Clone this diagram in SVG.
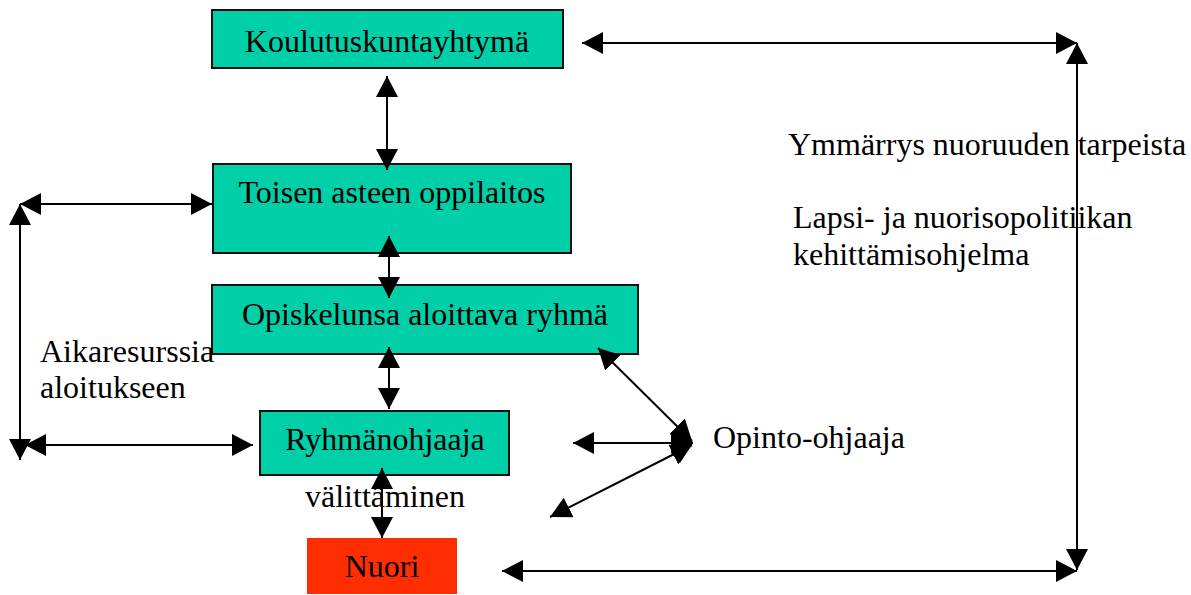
<svg xmlns="http://www.w3.org/2000/svg" width="1191" height="595" viewBox="0 0 1191 595">
<defs>
<marker id="ah" viewBox="0 0 21 22" refX="21" refY="11" markerWidth="21" markerHeight="22" markerUnits="userSpaceOnUse" orient="auto-start-reverse">
<path d="M0,0 L21,11 L0,22 z" fill="#000"/>
</marker>
<style>
.box{fill:#00CFA8;stroke:#111;stroke-width:2}
.red{fill:#FF2E00}
text{font-family:"Liberation Serif","Times New Roman",serif;font-size:32px;fill:#000}
.c{text-anchor:middle}
.ln{stroke:#000;stroke-width:2;fill:none;marker-start:url(#ah);marker-end:url(#ah)}
</style>
</defs>
<rect width="1191" height="595" fill="#fff"/>
<g id="n1"><rect class="box" x="212" y="10" width="351" height="58"/><text class="c" x="387" y="52">Koulutuskuntayhtymä</text></g>
<g id="n2"><rect class="box" x="213" y="164" width="358" height="89"/><text class="c" x="392" y="203">Toisen asteen oppilaitos</text></g>
<g id="n3"><rect class="box" x="212" y="285" width="426" height="69"/><text class="c" x="425" y="325">Opiskelunsa aloittava ryhmä</text></g>
<g id="n4"><rect class="box" x="260" y="411" width="249" height="64"/><text class="c" x="385" y="450">Ryhmänohjaaja</text></g>
<g id="n5"><rect class="red" x="307" y="538" width="150" height="56"/><text class="c" x="382" y="577">Nuori</text></g>
<g id="labels">
<text x="788" y="155">Ymmärrys nuoruuden tarpeista</text>
<text x="793" y="228">Lapsi- ja nuorisopolitiikan</text>
<text x="793" y="265">kehittämisohjelma</text>
<text x="40" y="362">Aikaresurssia</text>
<text x="40" y="398">aloitukseen</text>
<text x="713" y="448">Opinto-ohjaaja</text>
<text x="305" y="507">välittäminen</text>
</g>
<g id="connectors">
<line class="ln" x1="387" y1="76" x2="387" y2="170"/>
<line class="ln" x1="389" y1="236" x2="389" y2="298"/>
<line class="ln" x1="389" y1="347" x2="389" y2="409"/>
<line class="ln" x1="382" y1="468" x2="382" y2="538"/>
<line class="ln" x1="20" y1="204" x2="212" y2="204"/>
<line class="ln" x1="20" y1="204" x2="20" y2="460"/>
<line class="ln" x1="25" y1="445" x2="253" y2="445"/>
<line class="ln" x1="582" y1="43" x2="1077" y2="43"/>
<line class="ln" x1="1077" y1="43" x2="1077" y2="570"/>
<line class="ln" x1="502" y1="571" x2="1077" y2="571"/>
<line class="ln" x1="598" y1="348" x2="692" y2="441"/>
<line class="ln" x1="573" y1="443" x2="693" y2="443"/>
<line class="ln" x1="550" y1="517" x2="692" y2="445"/>
<polygon points="684,423 693,443 680,463 671,453 671,434" fill="#000"/>
</g>
</svg>
